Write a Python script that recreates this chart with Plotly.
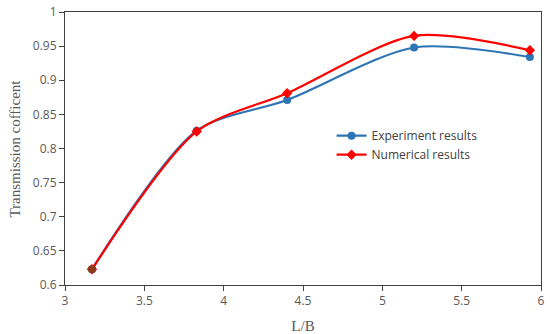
import plotly.graph_objects as go

lb = [3.17, 3.83, 4.40, 5.20, 5.93]
experiment = [0.623, 0.826, 0.871, 0.948, 0.934]
numerical = [0.623, 0.825, 0.881, 0.965, 0.944]

x_ticks = [3, 3.5, 4, 4.5, 5, 5.5, 6]
x_tick_labels = ["3", "3.5", "4", "4.5", "5", "5.5", "6"]
y_ticks = [0.6, 0.65, 0.7, 0.75, 0.8, 0.85, 0.9, 0.95, 1]
y_tick_labels = ["0.6", "0.65", "0.7", "0.75", "0.8", "0.85", "0.9", "0.95", "1"]

fig = go.Figure()
fig.add_trace(go.Scatter(
    x=lb, y=experiment, name="Experiment results", mode="lines+markers",
    line=dict(color="#2E75B6", width=2.2, shape="spline", smoothing=0.8),
    marker=dict(symbol="circle", size=8, color="#2E75B6"),
))
fig.add_trace(go.Scatter(
    x=lb, y=numerical, name="Numerical results", mode="lines+markers",
    line=dict(color="#FF0000", width=2.2, shape="spline", smoothing=0.8),
    marker=dict(symbol="diamond", size=8, color="#FF0000"),
))
# overlapping first point appears brownish in the reference
fig.add_trace(go.Scatter(
    x=lb[:1], y=experiment[:1], mode="markers", showlegend=False,
    marker=dict(symbol="circle", size=8, color="#8B3A1A"), hoverinfo="skip",
))

axis_common = dict(
    showline=True, linecolor="#404040", linewidth=1, mirror=True,
    ticks="outside", ticklen=5, tickcolor="#404040",
    showgrid=False, zeroline=False, automargin=False,
    tickfont=dict(family="Open Sans, Liberation Sans, sans-serif", size=12, color="#595959"),
)

title_font = dict(family="Liberation Serif, Times New Roman, serif", size=15, color="#595959")

fig.update_layout(
    width=550, height=334,
    margin=dict(l=65, r=9, t=12, b=49, autoexpand=False),
    paper_bgcolor="white", plot_bgcolor="white",
    xaxis=dict(range=[3, 6], tickvals=x_ticks, ticktext=x_tick_labels,
               title=dict(text="L/B", font=title_font),
               **axis_common),
    yaxis=dict(range=[0.6, 1], tickvals=y_ticks, ticktext=y_tick_labels,
               **axis_common),
    legend=dict(x=0.56, y=0.6, xanchor="left", yanchor="top",
                bgcolor="rgba(0,0,0,0)", tracegroupgap=8,
                font=dict(family="Open Sans, Liberation Sans, sans-serif", size=12, color="#404040")),
    showlegend=True,
    annotations=[dict(text="Transmission cofficent", xref="paper", yref="paper",
                      x=-0.107, y=0.5, xanchor="center", yanchor="middle",
                      textangle=-90, showarrow=False, font=title_font)],
)

fig.write_html("out.html", post_script="document.body.style.margin='0';",
               config={"displayModeBar": False})
